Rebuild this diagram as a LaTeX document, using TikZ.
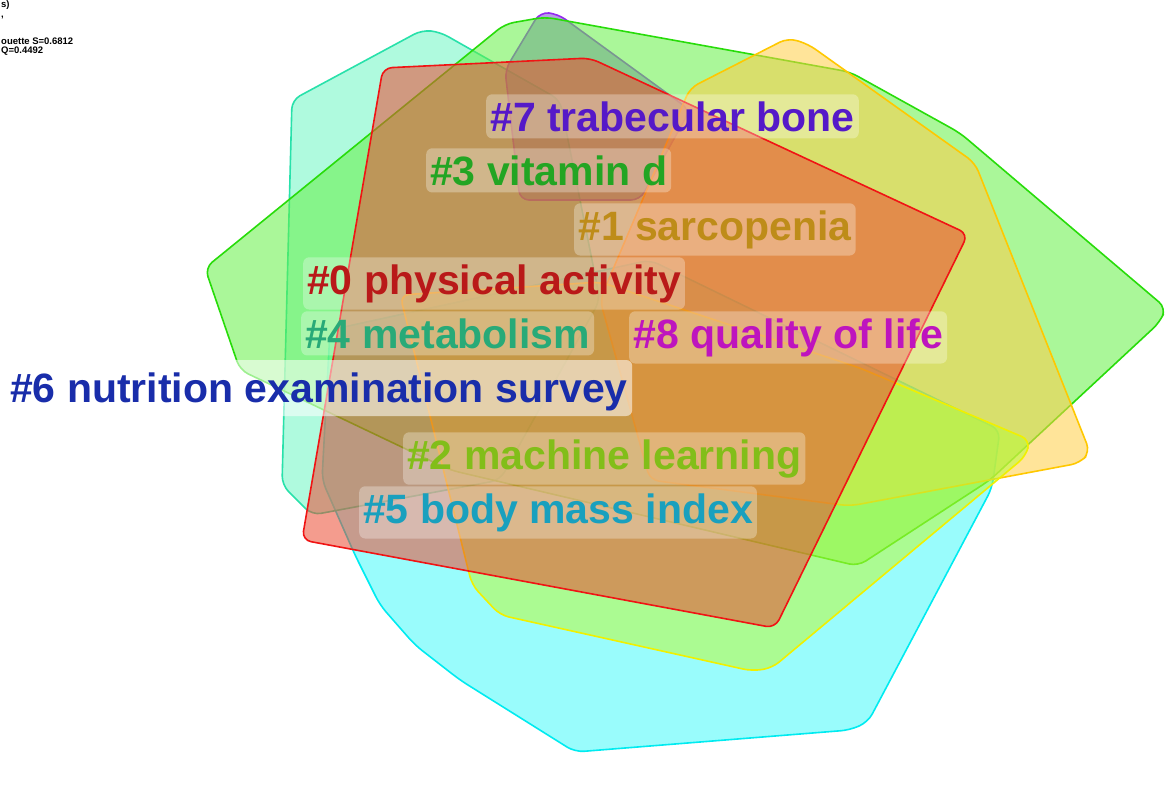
\documentclass[tikz,border=0pt]{standalone}
\usepackage{fontspec}
\setmainfont{Liberation Sans}
\definecolor{cCyan}{RGB}{70,250,250}
\definecolor{cCyanL}{RGB}{0,235,240}
\definecolor{cMint}{RGB}{110,245,195}
\definecolor{cMintL}{RGB}{40,225,170}
\definecolor{cGreen}{RGB}{100,240,70}
\definecolor{cGreenL}{RGB}{40,220,10}
\definecolor{cPurp}{RGB}{120,80,210}
\definecolor{cPurpL}{RGB}{150,40,240}
\definecolor{cGold}{RGB}{255,205,70}
\definecolor{cGoldL}{RGB}{255,200,0}
\definecolor{cYel}{RGB}{185,250,60}
\definecolor{cYelL}{RGB}{240,240,0}
\definecolor{cRed}{RGB}{235,75,50}
\definecolor{cRedL}{RGB}{240,20,20}
\definecolor{t7}{RGB}{85,25,200}
\definecolor{t3}{RGB}{35,165,35}
\definecolor{t1}{RGB}{190,140,25}
\definecolor{t0}{RGB}{185,25,25}
\definecolor{t4}{RGB}{40,170,120}
\definecolor{t8}{RGB}{190,20,190}
\definecolor{t6}{RGB}{25,45,170}
\definecolor{t2}{RGB}{130,190,25}
\definecolor{t5}{RGB}{25,160,190}
\tikzset{
  hull/.style={rounded corners=9pt, line width=1.6pt, fill opacity=0.55, draw opacity=1},
  lbl/.style={fill=white, fill opacity=0.3, text opacity=1, rounded corners=6pt, inner xsep=4pt, inner ysep=7pt, anchor=base west, font=\fontsize{41}{41}\selectfont\bfseries},
  hdr/.style={inner sep=0pt, anchor=base west, font=\fontsize{9.5}{9.5}\selectfont\bfseries}
}
\begin{document}
\begin{tikzpicture}[x=1pt,y=-1pt]
\useasboundingbox (0,0) rectangle (1168,801);
\clip (0,0) rectangle (1168,801);
% cyan hull (#5)
\path[hull, draw=cCyanL, fill=cCyan] (330,330) -- (650,260) -- (1000,430) -- (992,488) -- (868,722) -- (850,730) -- (575,752) -- (460,680) -- (415,645) -- (380,605) -- (355,555) -- (322,480) -- cycle;
% mint hull (#4)
\path[hull, draw=cMintL, fill=cMint] (292,100) -- (422,30) -- (440,32) -- (560,100) -- (600,300) -- (500,480) -- (312,515) -- (282,485) -- cycle;
% purple hull (#7)
\path[hull, draw=cPurpL, fill=cPurp] (505,70) -- (540,12) -- (558,14) -- (690,110) -- (640,200) -- (520,200) -- cycle;
% green hull (#3)
\path[hull, draw=cGreenL, fill=cGreen] (205,268) -- (505,24) -- (545,17) -- (850,72) -- (960,133) -- (1166,308) -- (1160,322) -- (990,480) -- (858,566) -- (450,470) -- (240,370) -- cycle;
% gold hull (#1)
\path[hull, draw=cGoldL, fill=cGold] (690,88) -- (788,38) -- (808,44) -- (975,163) -- (1090,452) -- (1080,463) -- (850,506) -- (650,480) -- (600,300) -- cycle;
% yellow hull (#2)
\path[hull, draw=cYelL, fill=cYel] (400,295) -- (600,282) -- (860,368) -- (1030,440) -- (1026,456) -- (772,668) -- (752,671) -- (500,615) -- (472,585) -- cycle;
% red hull (#0)
\path[hull, draw=cRedL, fill=cRed] (383,68) -- (590,58) -- (968,234) -- (775,628) -- (302,540) -- cycle;

% header text (as far as the picture shows it)
\node[hdr] (h1) at (1,7) {s)};
\node[hdr] (h2) at (1,17) {,};
\node[hdr] (h3) at (1,44) {ouette S=0.6812};
\node[hdr] (h4) at (1,53) {Q=0.4492};

% labels
\node[fill=white, fill opacity=0.55, rounded corners=6pt, minimum width=640pt, minimum height=56pt, anchor=west] (bg6) at (-8,388) {};
\node[lbl, text=t7] (l7) at (486,131) {\#7 trabecular bone};
\node[lbl, text=t3] (l3) at (426,185) {\#3 vitamin d};
\node[lbl, text=t1] (l1) at (574,240) {\#1 sarcopenia};
\node[lbl, text=t0] (l0) at (303,294) {\#0 physical activity};
\node[lbl, text=t4] (l4) at (301,348) {\#4 metabolism};
\node[lbl, text=t8] (l8) at (629,348) {\#8 quality of life};
\node[lbl, text=t6, fill opacity=0] (l6) at (6,402) {\#6 nutrition examination survey};
\node[lbl, text=t2] (l2) at (403,469) {\#2 machine learning};
\node[lbl, text=t5] (l5) at (359,523) {\#5 body mass index};
\end{tikzpicture}
\end{document}
